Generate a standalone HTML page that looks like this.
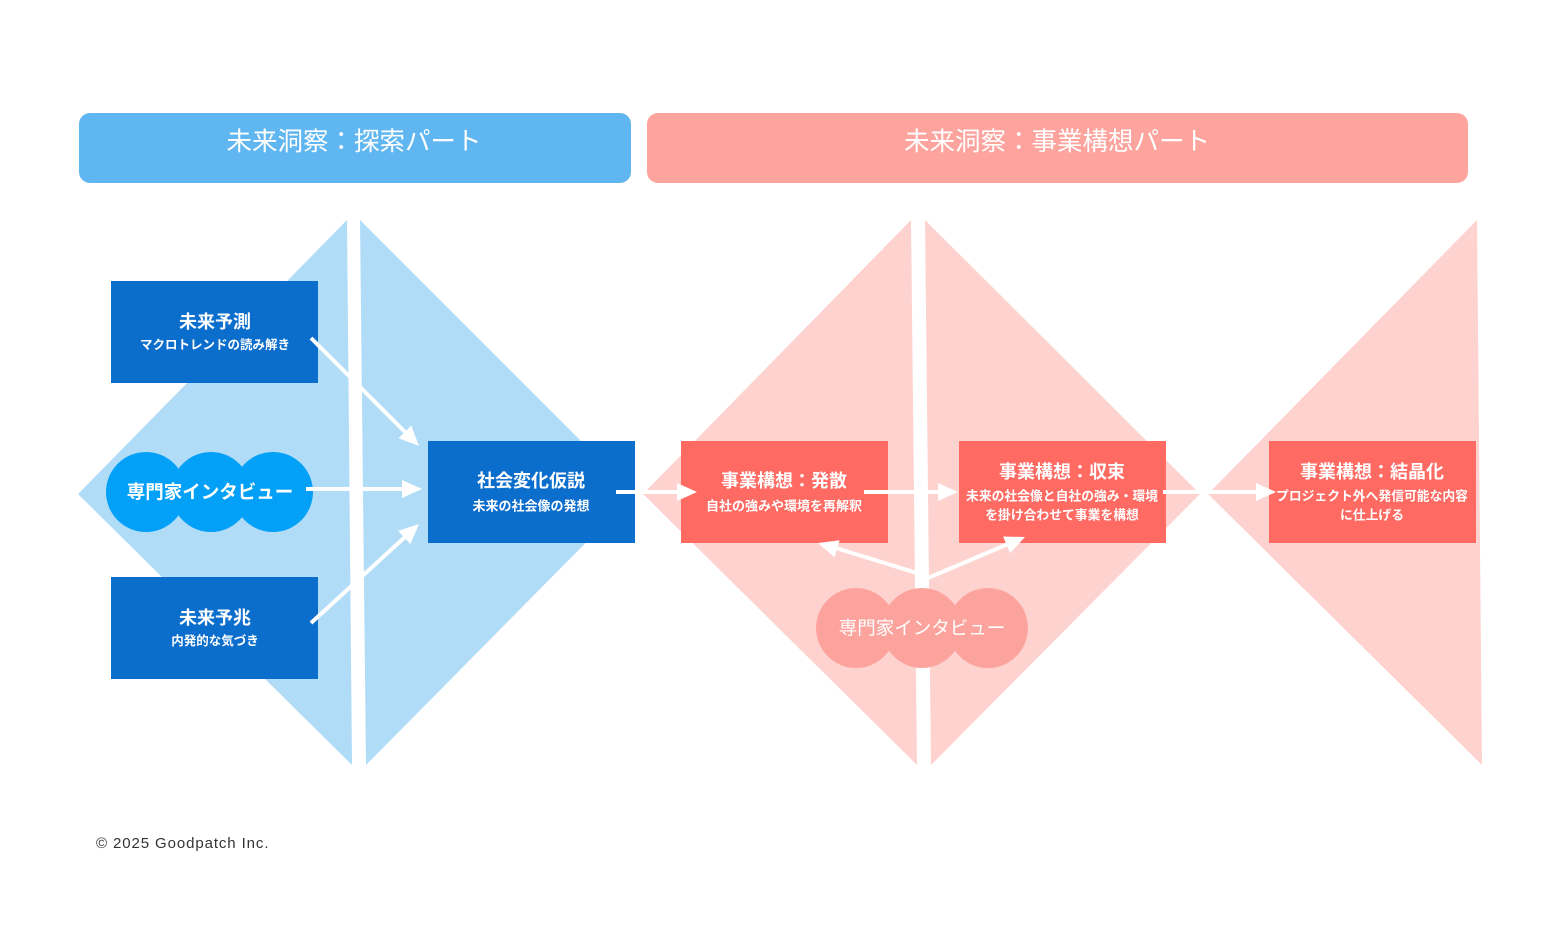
<!DOCTYPE html>
<html lang="ja">
<head>
<meta charset="utf-8">
<style>
  html,body{margin:0;padding:0;background:#ffffff;}
  body{width:1560px;height:940px;overflow:hidden;}
  svg{display:block;}
  text{font-family:"Liberation Sans","Noto Sans CJK JP",sans-serif;}
</style>
</head>
<body>
<svg width="1560" height="940" viewBox="0 0 1560 940" xmlns="http://www.w3.org/2000/svg">
  <rect x="0" y="0" width="1560" height="940" fill="#ffffff"/>

  <!-- Header bars -->
  <rect x="79" y="113" width="552" height="70" rx="11" ry="11" fill="#60b6f0"/>
  <text x="354" y="142" fill="#ffffff" font-size="25.5" text-anchor="middle" dominant-baseline="central">未来洞察：探索パート</text>
  <rect x="647" y="113" width="821" height="70" rx="11" ry="11" fill="#fea49e"/>
  <text x="1057" y="142" fill="#ffffff" font-size="25.5" text-anchor="middle" dominant-baseline="central">未来洞察：事業構想パート</text>

  <!-- Blue diamond halves -->
  <polygon points="347,220 78,494 352,765" fill="#b0dcf7"/>
  <polygon points="360,220 634,494 366,765" fill="#b0dcf7"/>

  <!-- Pink diamond halves -->
  <polygon points="911,220 643,494 917,765" fill="#fed2cf"/>
  <polygon points="925,220 1200,494 931,765" fill="#fed2cf"/>

  <!-- Pink right triangle -->
  <polygon points="1477,220 1208,494 1482,765" fill="#fed2cf"/>

  <!-- Blue boxes -->
  <rect x="111" y="281" width="207" height="102" fill="#0b6dcc"/>
  <text x="215" y="322" fill="#ffffff" font-size="18" font-weight="700" text-anchor="middle" dominant-baseline="central">未来予測</text>
  <text x="215" y="345" fill="#ffffff" font-size="12.5" font-weight="700" text-anchor="middle" dominant-baseline="central">マクロトレンドの読み解き</text>

  <rect x="111" y="577" width="207" height="102" fill="#0b6dcc"/>
  <text x="215" y="618" fill="#ffffff" font-size="18" font-weight="700" text-anchor="middle" dominant-baseline="central">未来予兆</text>
  <text x="215" y="641" fill="#ffffff" font-size="12.5" font-weight="700" text-anchor="middle" dominant-baseline="central">内発的な気づき</text>

  <rect x="428" y="441" width="207" height="102" fill="#0b6dcc"/>
  <text x="531" y="481" fill="#ffffff" font-size="18" font-weight="700" text-anchor="middle" dominant-baseline="central">社会変化仮説</text>
  <text x="531" y="506" fill="#ffffff" font-size="13" font-weight="700" text-anchor="middle" dominant-baseline="central">未来の社会像の発想</text>

  <!-- Blue cloud -->
  <g fill="#03a0f7">
    <circle cx="146" cy="492" r="40"/>
    <circle cx="211" cy="492" r="40"/>
    <circle cx="273" cy="492" r="40"/>
  </g>
  <text x="210" y="492" fill="#ffffff" font-size="18.5" font-weight="700" text-anchor="middle" dominant-baseline="central">専門家インタビュー</text>

  <!-- Red boxes -->
  <rect x="681" y="441" width="207" height="102" fill="#ff6a62"/>
  <text x="784" y="481" fill="#ffffff" font-size="18" font-weight="700" text-anchor="middle" dominant-baseline="central">事業構想：発散</text>
  <text x="784" y="506" fill="#ffffff" font-size="13" font-weight="700" text-anchor="middle" dominant-baseline="central">自社の強みや環境を再解釈</text>

  <rect x="959" y="441" width="207" height="102" fill="#ff6a62"/>
  <text x="1062" y="472" fill="#ffffff" font-size="18" font-weight="700" text-anchor="middle" dominant-baseline="central">事業構想：収束</text>
  <text x="1062" y="496" fill="#ffffff" font-size="12.8" font-weight="700" text-anchor="middle" dominant-baseline="central">未来の社会像と自社の強み・環境</text>
  <text x="1062" y="515" fill="#ffffff" font-size="12.8" font-weight="700" text-anchor="middle" dominant-baseline="central">を掛け合わせて事業を構想</text>

  <rect x="1269" y="441" width="207" height="102" fill="#ff6a62"/>
  <text x="1372" y="472" fill="#ffffff" font-size="18" font-weight="700" text-anchor="middle" dominant-baseline="central">事業構想：結晶化</text>
  <text x="1372" y="496" fill="#ffffff" font-size="12.8" font-weight="700" text-anchor="middle" dominant-baseline="central">プロジェクト外へ発信可能な内容</text>
  <text x="1372" y="515" fill="#ffffff" font-size="12.8" font-weight="700" text-anchor="middle" dominant-baseline="central">に仕上げる</text>

  <!-- Arrows -->
  <g stroke="#ffffff" stroke-width="4" fill="none">
    <line x1="311" y1="338" x2="405" y2="432"/>
    <line x1="306" y1="489" x2="404" y2="489"/>
    <line x1="311" y1="623" x2="405" y2="537"/>
    <line x1="616" y1="492" x2="679" y2="492"/>
    <line x1="864" y1="492" x2="940" y2="492"/>
    <line x1="1163" y1="492" x2="1258" y2="492"/>
    <line x1="917" y1="573" x2="836" y2="548"/>
    <line x1="928" y1="578" x2="1008" y2="544"/>
  </g>
  <g fill="#ffffff">
    <polygon points="419,446 398.5,438.3 411.3,425.5"/>
    <polygon points="422,489 402,480 402,498"/>
    <polygon points="419,524 410.4,544.1 398.2,530.9"/>
    <polygon points="697,492 677,483 677,501"/>
    <polygon points="958,492 938,483 938,501"/>
    <polygon points="1276,492 1256,483 1256,501"/>
    <polygon points="818,543 839.7,540.2 834.5,557.4"/>
    <polygon points="1025,537 1010.1,553.1 1003.1,536.5"/>
  </g>

  <!-- Pink cloud -->
  <g fill="#fda39d">
    <circle cx="856" cy="628" r="40"/>
    <circle cx="922" cy="628" r="40"/>
    <circle cx="988" cy="628" r="40"/>
  </g>
  <text x="922" y="628" fill="#ffffff" font-size="18.5" text-anchor="middle" dominant-baseline="central">専門家インタビュー</text>

  <!-- Copyright -->
  <text x="96" y="848" fill="#333333" font-size="15" letter-spacing="0.9">© 2025 Goodpatch Inc.</text>
</svg>
</body>
</html>
